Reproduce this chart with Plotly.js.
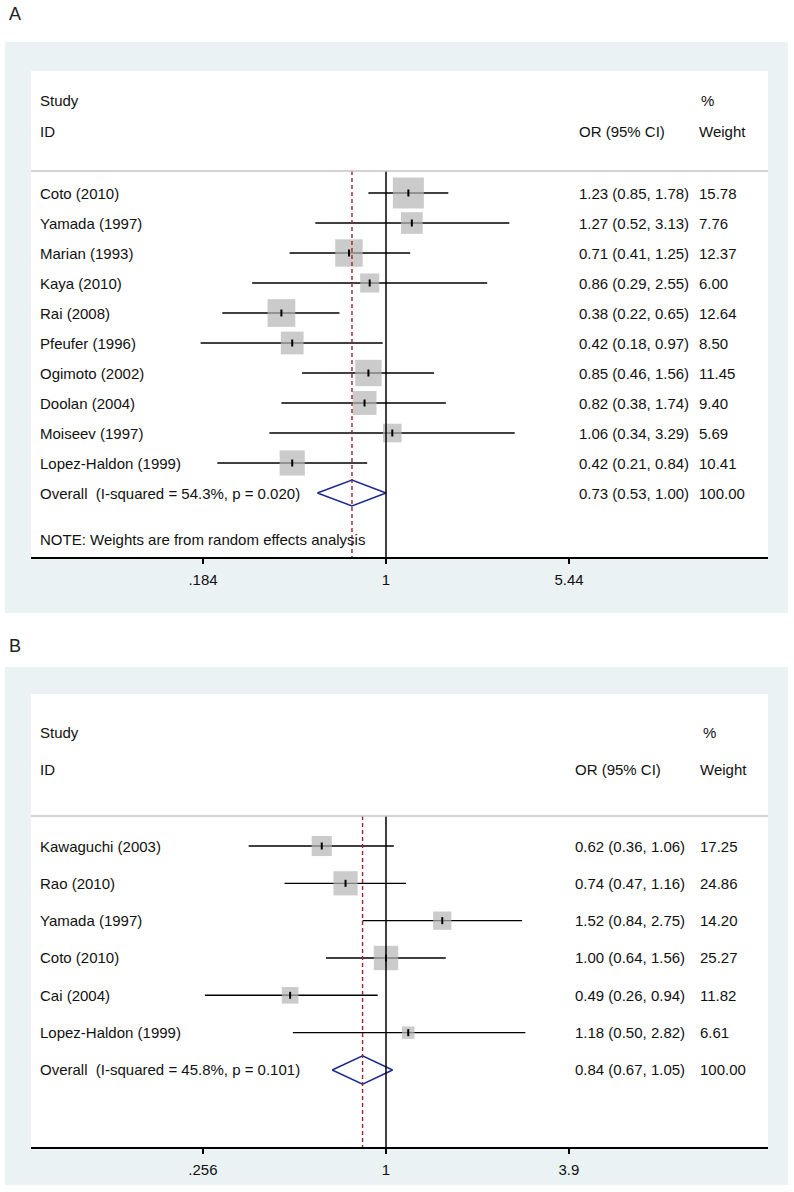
<!DOCTYPE html>
<html>
<head>
<meta charset="utf-8">
<script src="https://cdn.plot.ly/plotly-3.0.1.min.js"></script>
<style>html,body{margin:0;padding:0;background:#fff;}#chart{width:794px;height:1192px;}</style>
</head>
<body>
<div id="chart"></div>
<script>
// ---------- Panel A data ----------
var studiesA = ['Coto (2010)', 'Yamada (1997)', 'Marian (1993)', 'Kaya (2010)', 'Rai (2008)', 'Pfeufer (1996)', 'Ogimoto (2002)', 'Doolan (2004)', 'Moiseev (1997)', 'Lopez-Haldon (1999)'];
var orA = [1.23, 1.27, 0.71, 0.86, 0.38, 0.42, 0.85, 0.82, 1.06, 0.42];
var loA = [0.85, 0.52, 0.41, 0.29, 0.22, 0.18, 0.46, 0.38, 0.34, 0.21];
var hiA = [1.78, 3.13, 1.25, 2.55, 0.65, 0.97, 1.56, 1.74, 3.29, 0.84];
var weightA = [15.78, 7.76, 12.37, 6.00, 12.64, 8.50, 11.45, 9.40, 5.69, 10.41];
var overallLabelA = 'Overall  (I-squared = 54.3%, p = 0.020)';
var overallA = [0.73, 0.53, 1.00];   // OR, lower, upper
var overallWeightA = 100.00;
var noteA = 'NOTE: Weights are from random effects analysis';
var tickValsA = [0.184, 1, 5.44];
var tickTextA = ['.184', '1', '5.44'];

// ---------- Panel B data ----------
var studiesB = ['Kawaguchi (2003)', 'Rao (2010)', 'Yamada (1997)', 'Coto (2010)', 'Cai (2004)', 'Lopez-Haldon (1999)'];
var orB = [0.62, 0.74, 1.52, 1.00, 0.49, 1.18];
var loB = [0.36, 0.47, 0.84, 0.64, 0.26, 0.50];
var hiB = [1.06, 1.16, 2.75, 1.56, 0.94, 2.82];
var weightB = [17.25, 24.86, 14.20, 25.27, 11.82, 6.61];
var overallLabelB = 'Overall  (I-squared = 45.8%, p = 0.101)';
var overallB = [0.84, 0.67, 1.05];
var overallWeightB = 100.00;
var tickValsB = [0.256, 1, 3.9];
var tickTextB = ['.256', '1', '3.9'];

// ---------- layout helpers ----------
var W = 794, H = 1192;
function px(x) { return x / W; }
function py(y) { return 1 - y / H; }
var FONT = 'Liberation Sans, Arial, sans-serif';
var FS = 15;
var traces = [], shapes = [], annotations = [];

function panel(cfg) {
  var xa = cfg.xa, ya = cfg.ya;
  var n = cfg.studies.length;
  // CI lines
  var cx = [], cy = [];
  for (var i = 0; i < n; i++) { cx.push(cfg.lo[i], cfg.hi[i], null); cy.push(i, i, null); }
  traces.push({type: 'scatter', mode: 'lines', x: cx, y: cy, xaxis: xa, yaxis: ya,
    line: {color: '#000', width: 1.4}, hoverinfo: 'skip', showlegend: false});
  // weighted boxes
  var rows = cfg.studies.map(function(_, i){ return i; });
  traces.push({type: 'scatter', mode: 'markers', x: cfg.or, y: rows,
    xaxis: xa, yaxis: ya, showlegend: false, hoverinfo: 'skip',
    marker: {symbol: 'square', color: '#b5b5b5', line: {width: 0},
      size: cfg.weight.map(function(w){ return cfg.k * Math.sqrt(w); })}});
  // point estimate ticks
  traces.push({type: 'scatter', mode: 'markers', x: cfg.or, y: rows,
    xaxis: xa, yaxis: ya, showlegend: false, hoverinfo: 'skip',
    marker: {symbol: 'line-ns', size: 5, color: '#000', line: {width: 2, color: '#000'}}});
  // overall diamond
  var o = cfg.overall, h = cfg.dh;
  traces.push({type: 'scatter', mode: 'lines', xaxis: xa, yaxis: ya, showlegend: false, hoverinfo: 'skip',
    x: [o[1], o[0], o[2], o[0], o[1]], y: [n, n - h, n, n + h, n],
    line: {color: '#1c2a8c', width: 1.5}});
  // vertical reference lines
  shapes.push({type: 'line', xref: xa, yref: ya, x0: 1, x1: 1, y0: cfg.sepRow, y1: cfg.yBottom,
    line: {color: '#000', width: 1.5}});
  shapes.push({type: 'line', xref: xa, yref: ya, x0: o[0], x1: o[0], y0: cfg.sepRow, y1: cfg.yBottom,
    line: {color: '#a02030', width: 1.4, dash: '4px,3px'}});
  // labels
  function ann(text, xpx, yrow) {
    return {text: text, xref: 'paper', x: px(xpx), yref: ya, y: yrow, xanchor: 'left', yanchor: 'middle',
      showarrow: false, font: {family: FONT, size: FS, color: '#111'}};
  }
  for (var j = 0; j < n; j++) {
    annotations.push(ann(cfg.studies[j], 38, j));
    annotations.push(ann(cfg.or[j].toFixed(2) + ' (' + cfg.lo[j].toFixed(2) + ', ' + cfg.hi[j].toFixed(2) + ')', cfg.orX, j));
    annotations.push(ann(cfg.weight[j].toFixed(2), cfg.wX, j));
  }
  annotations.push(ann(cfg.overallLabel, 38, n));
  annotations.push(ann(o[0].toFixed(2) + ' (' + o[1].toFixed(2) + ', ' + o[2].toFixed(2) + ')', cfg.orX, n));
  annotations.push(ann(cfg.overallWeight.toFixed(2), cfg.wX, n));
  if (cfg.note) annotations.push(ann(cfg.note, 38, cfg.noteRow));
  // headers
  annotations.push(ann('Study', 38, cfg.hdr1));
  annotations.push(ann('ID', 38, cfg.hdr2));
  annotations.push(ann('%', cfg.pctX, cfg.hdr1));
  annotations.push(ann('OR (95% CI)', cfg.orX, cfg.hdr2));
  annotations.push(ann('Weight', cfg.wX, cfg.hdr2));
  // header separator
  shapes.push({type: 'line', xref: 'paper', yref: ya, x0: px(31), x1: px(768), y0: cfg.sepRow, y1: cfg.sepRow,
    line: {color: '#c4c4c4', width: 1.5}});
}

// backgrounds (light-blue outer, white inner)
shapes.push({type: 'rect', xref: 'paper', yref: 'paper', layer: 'below', x0: px(5), x1: px(788), y0: py(613), y1: py(42),
  fillcolor: '#eaf2f4', line: {width: 0}});
shapes.push({type: 'rect', xref: 'paper', yref: 'paper', layer: 'below', x0: px(31), x1: px(768), y0: py(557), y1: py(71),
  fillcolor: '#ffffff', line: {width: 0}});
shapes.push({type: 'rect', xref: 'paper', yref: 'paper', layer: 'below', x0: px(5), x1: px(788), y0: py(1185), y1: py(667),
  fillcolor: '#eaf2f4', line: {width: 0}});
shapes.push({type: 'rect', xref: 'paper', yref: 'paper', layer: 'below', x0: px(31), x1: px(768), y0: py(1147), y1: py(694),
  fillcolor: '#ffffff', line: {width: 0}});

// Panel A: rows at 193 + 30*i px; top 71, bottom 557
var rowA0 = 193, rowAs = 30.0;
function rowA(p) { return (p - rowA0) / rowAs; }
panel({xa: 'x', ya: 'y', studies: studiesA, or: orA, lo: loA, hi: hiA, weight: weightA,
  overall: overallA, overallLabel: overallLabelA, overallWeight: overallWeightA, note: noteA, noteRow: rowA(539),
  k: 7.8, dh: 0.43, sepRow: rowA(171), yBottom: rowA(557), hdr1: rowA(100), hdr2: rowA(131),
  orX: 577, wX: 697, pctX: 699});

// Panel B: rows at 846 + 37.33*i px; top 694, bottom 1147
var rowB0 = 846, rowBs = 37.33;
function rowB(p) { return (p - rowB0) / rowBs; }
panel({xa: 'x2', ya: 'y2', studies: studiesB, or: orB, lo: loB, hi: hiB, weight: weightB,
  overall: overallB, overallLabel: overallLabelB, overallWeight: overallWeightB, note: null,
  k: 4.85, dh: 0.38, sepRow: rowB(816), yBottom: rowB(1147), hdr1: rowB(732), hdr2: rowB(769),
  orX: 573, wX: 698, pctX: 701});

// panel letters
annotations.push({text: 'A', xref: 'paper', yref: 'paper', x: px(7), y: py(14), xanchor: 'left', yanchor: 'middle',
  showarrow: false, font: {family: FONT, size: 18, color: '#222'}});
annotations.push({text: 'B', xref: 'paper', yref: 'paper', x: px(7), y: py(646), xanchor: 'left', yanchor: 'middle',
  showarrow: false, font: {family: FONT, size: 18, color: '#222'}});

// pixel-derived axis ranges (log10 units): x=1 at 386px
var scaleA = 108.1 * Math.LN10, scaleB = 134.4 * Math.LN10;
function xAxis(domain, range, tv, tt) {
  return {type: 'log', domain: domain, range: range, tickvals: tv, ticktext: tt,
    showgrid: false, zeroline: false, showline: true, linecolor: '#000', linewidth: 1.5,
    ticks: 'outside', ticklen: 5, tickwidth: 1.5, tickcolor: '#000', ticklabelstandoff: 3,
    tickfont: {family: FONT, size: FS, color: '#111'}, fixedrange: true};
}
function yAxis(domain, range) {
  return {domain: domain, range: range, visible: false, showgrid: false, zeroline: false, fixedrange: true};
}

var layout = {
  width: W, height: H, margin: {l: 0, r: 0, t: 0, b: 0},
  paper_bgcolor: '#fff', plot_bgcolor: 'rgba(0,0,0,0)', showlegend: false,
  xaxis: xAxis([px(31), px(768)], [(31 - 386) / scaleA, (768 - 386) / scaleA], tickValsA, tickTextA),
  yaxis: yAxis([py(557), py(71)], [rowA(557), rowA(71)]),
  xaxis2: xAxis([px(31), px(768)], [(31 - 386) / scaleB, (768 - 386) / scaleB], tickValsB, tickTextB),
  yaxis2: yAxis([py(1147), py(694)], [rowB(1147), rowB(694)]),
  shapes: shapes, annotations: annotations
};
layout.xaxis2.anchor = 'y2';
layout.yaxis2.anchor = 'x2';

Plotly.newPlot('chart', traces, layout, {displayModeBar: false, staticPlot: true});
</script>
</body>
</html>
